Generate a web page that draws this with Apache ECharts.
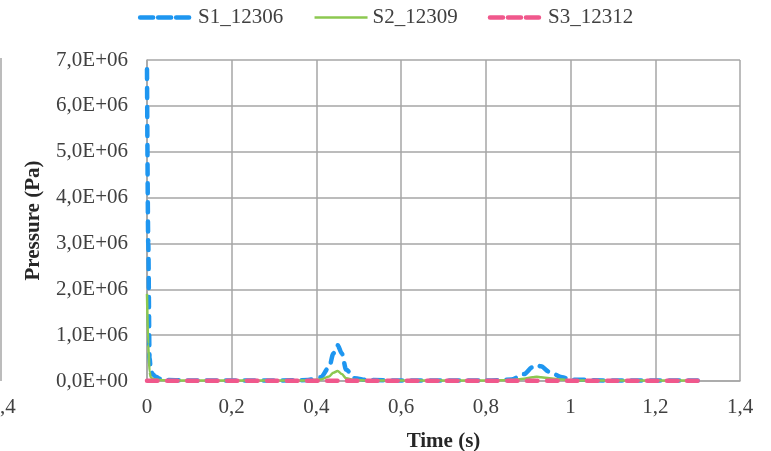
<!DOCTYPE html>
<html>
	<head>
		<meta charset="utf-8">
		<title>Pressure</title>
		<script src="https://cdn.jsdelivr.net/npm/echarts@6/dist/echarts.min.js"></script>
		<style>
			html, body { margin: 0; padding: 0; background: #fff; }
			#mainCharts { width: 771px; height: 451px; }
		</style>
	</head>
	<body>
		<div id="mainCharts"></div>
		<script type="text/javascript">
		// time (s)
		var times = [0, 0.003, 0.006, 0.009, 0.013, 0.02, 0.03, 0.05, 0.1, 0.2, 0.3, 0.38, 0.41, 0.43, 0.44, 0.45, 0.46, 0.47, 0.49, 0.52, 0.6, 0.7, 0.8, 0.86, 0.89, 0.91, 0.92, 0.93, 0.95, 0.98, 1.0, 1.1, 1.2, 1.3];
		// pressure (Pa)
		var s1 = [6.8e6, 3.0e6, 0.5e6, 0.25e6, 0.15e6, 0.1e6, 0.05e6, 0.02e6, 0.01e6, 0.01e6, 0.01e6, 0.02e6, 0.08e6, 0.3e6, 0.6e6, 0.78e6, 0.6e6, 0.25e6, 0.06e6, 0.02e6, 0.01e6, 0.01e6, 0.01e6, 0.03e6, 0.15e6, 0.3e6, 0.35e6, 0.32e6, 0.2e6, 0.08e6, 0.03e6, 0.01e6, 0.01e6, 0.01e6];
		var s2 = [1.9e6, 0.8e6, 0.2e6, 0.08e6, 0.05e6, 0.03e6, 0.02e6, 0.01e6, 0.01e6, 0.01e6, 0.01e6, 0.01e6, 0.03e6, 0.1e6, 0.18e6, 0.22e6, 0.15e6, 0.06e6, 0.02e6, 0.01e6, 0.01e6, 0.01e6, 0.01e6, 0.02e6, 0.05e6, 0.08e6, 0.09e6, 0.08e6, 0.06e6, 0.03e6, 0.01e6, 0.01e6, 0.01e6, 0.01e6];
		var s3 = [0.005e6, 0.005e6, 0.005e6, 0.005e6, 0.005e6, 0.005e6, 0.005e6, 0.005e6, 0.005e6, 0.005e6, 0.005e6, 0.005e6, 0.005e6, 0.005e6, 0.005e6, 0.005e6, 0.005e6, 0.005e6, 0.005e6, 0.005e6, 0.005e6, 0.005e6, 0.005e6, 0.005e6, 0.005e6, 0.005e6, 0.005e6, 0.005e6, 0.005e6, 0.005e6, 0.005e6, 0.005e6, 0.005e6, 0.005e6];
		var names = ['S1_12306', 'S2_12309', 'S3_12312'];

		function pairs(v) {
			return times.map(function (t, i) { return [t, v[i]]; });
		}

		var font = 'Liberation Serif';
		var myChart = echarts.init(document.getElementById('mainCharts'));

		var option = {
			animation: false,
			textStyle: { fontFamily: font },
			legend: {
				top: 2,
				left: 'center',
				itemWidth: 53,
				itemHeight: 14,
				itemGap: 30,
				itemStyle: { opacity: 0 },
				textStyle: { fontFamily: font, fontSize: 21, color: '#404040' },
				data: [
					{ name: names[0], lineStyle: { width: 4.5, type: [13, 5] } },
					{ name: names[1], lineStyle: { width: 2.5 } },
					{ name: names[2], lineStyle: { width: 4.5, type: [13, 5] } }
				]
			},
			grid: { left: 147, right: 31, top: 60, bottom: 70, containLabel: false, outerBoundsMode: 'none' },
			xAxis: {
				type: 'value',
				min: 0,
				max: 1.4,
				interval: 0.2,
				name: 'Time (s)',
				nameLocation: 'middle',
				nameGap: 50,
				nameTextStyle: { fontFamily: font, fontSize: 21, fontWeight: 'bold', color: '#262626' },
				axisLine: { show: true, lineStyle: { color: '#a6a6a6', width: 1.5 } },
				axisTick: { show: false },
				axisLabel: {
					fontFamily: font, fontSize: 21, color: '#404040', margin: 16,
					formatter: function (v) { return String(+v.toFixed(1)).replace('.', ','); }
				},
				splitLine: { show: true, lineStyle: { color: '#a6a6a6', width: 1.5 } }
			},
			yAxis: {
				type: 'value',
				min: 0,
				max: 7e6,
				interval: 1e6,
				name: 'Pressure (Pa)',
				nameLocation: 'middle',
				nameGap: 103,
				nameRotate: 90,
				nameTextStyle: { fontFamily: font, fontSize: 21, fontWeight: 'bold', color: '#262626' },
				axisLine: { show: true, lineStyle: { color: '#a6a6a6', width: 1.5 } },
				axisTick: { show: false },
				axisLabel: {
					fontFamily: font, fontSize: 21, color: '#404040', margin: 19,
					formatter: function (v) {
						if (v === 0) return '0,0E+00';
						return (v / 1e6).toFixed(1).replace('.', ',') + 'E+06';
					}
				},
				splitLine: { show: true, lineStyle: { color: '#a6a6a6', width: 1.5 } }
			},
			graphic: [
				{ type: 'line', shape: { x1: 1, y1: 58, x2: 1, y2: 381 }, style: { stroke: '#a6a6a6', lineWidth: 1.5 } },
				{ type: 'text', left: 0, top: 397, style: { text: ',4', fontFamily: font, fontSize: 21, fill: '#404040' } }
			],
			series: [
				{
					name: names[0], type: 'line', smooth: 0.3, smoothMonotone: 'x', symbol: 'none',
					itemStyle: { color: '#1e96f0' },
					lineStyle: { color: '#1e96f0', width: 4.5, type: [10, 9], cap: 'round' },
					data: pairs(s1)
				},
				{
					name: names[1], type: 'line', smooth: 0.3, smoothMonotone: 'x', symbol: 'none',
					itemStyle: { color: '#8cc850' },
					lineStyle: { color: '#8cc850', width: 2.5, type: 'solid' },
					data: pairs(s2)
				},
				{
					name: names[2], type: 'line', smooth: 0.3, smoothMonotone: 'x', symbol: 'none',
					itemStyle: { color: '#f0588c' },
					lineStyle: { color: '#f0588c', width: 4.5, type: [10.5, 9.5], cap: 'round' },
					data: pairs(s3)
				}
			]
		};

		myChart.setOption(option);
		</script>
	</body>
</html>
